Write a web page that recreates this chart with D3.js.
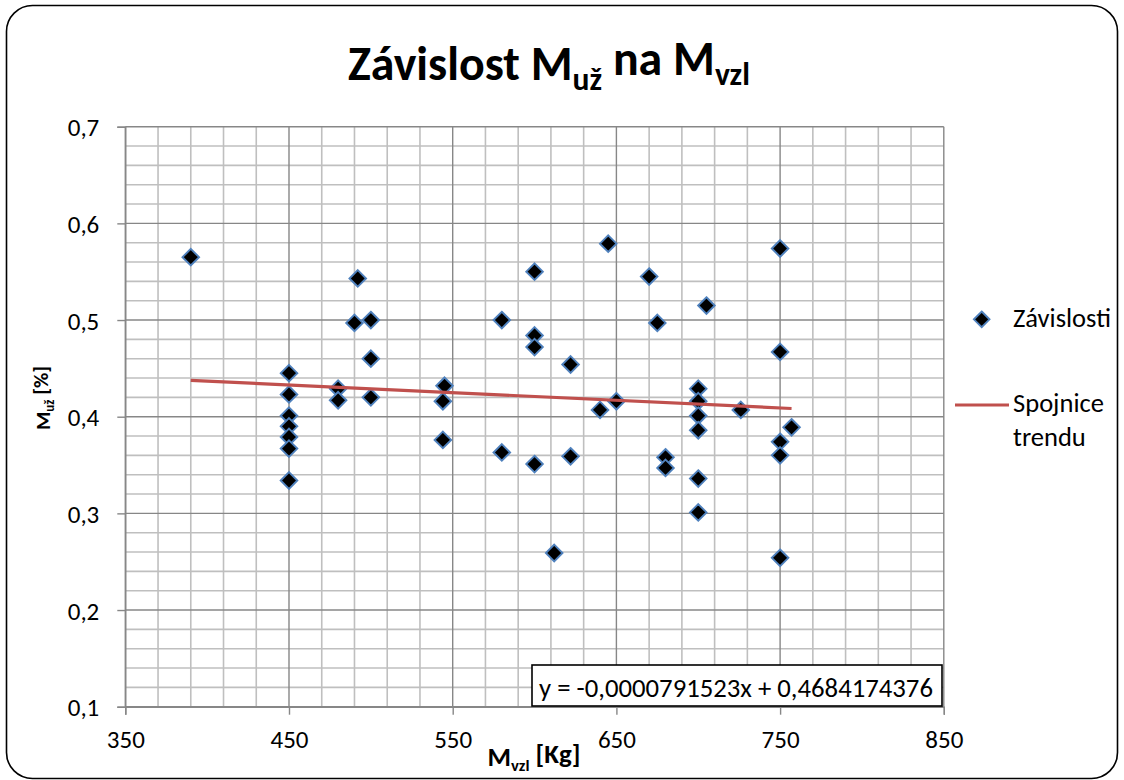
<!DOCTYPE html>
<html>
<head>
<meta charset="utf-8">
<script src="https://cdn.jsdelivr.net/npm/d3@7"></script>
<style>
  html, body { margin: 0; padding: 0; background: #fff; }
  svg { display: block; }
  text { font-family: Carlito, Calibri, Lato, "Open Sans", sans-serif; fill: #000; }
</style>
</head>
<body>
<svg id="chart" width="1124" height="780"></svg>
<script>
// ---- data ----
const massVzl = [390,
  450, 450, 450, 450, 450, 450, 450,
  480, 480, 490, 492, 500, 500, 500,
  545, 544, 544, 580, 580,
  600, 600, 600, 600, 612, 622, 622,
  640, 645, 650, 670, 675, 680, 680,
  700, 700, 700, 700, 700, 700, 705, 726,
  750, 750, 750, 750, 750, 757];
const massUz = [0.565,
  0.445, 0.423, 0.401, 0.390, 0.379, 0.367, 0.334,
  0.429, 0.417, 0.497, 0.543, 0.500, 0.460, 0.420,
  0.432, 0.416, 0.376, 0.500, 0.363,
  0.550, 0.484, 0.472, 0.351, 0.259, 0.454, 0.359,
  0.407, 0.579, 0.416, 0.545, 0.497, 0.358, 0.347,
  0.429, 0.416, 0.401, 0.386, 0.336, 0.301, 0.515, 0.407,
  0.574, 0.467, 0.374, 0.360, 0.254, 0.389];
const xTicks = [350, 450, 550, 650, 750, 850];
const yTicks = [0.1, 0.2, 0.3, 0.4, 0.5, 0.6, 0.7];
const xMinorStep = 20;
const yMinorStep = 0.02;
const trendSlope = -0.0000791523;
const trendIntercept = 0.4684174376;
const equationLabel = "y = -0,0000791523x + 0,4684174376";
const seriesName = "Závislosti";
const trendName = ["Spojnice", "trendu"];

// ---- layout ----
const svg = d3.select("#chart");
const L = 125.3, R = 943.8, T = 126.7, B = 706.7;
const x = d3.scaleLinear().domain([350, 850]).range([L, R]);
const y = d3.scaleLinear().domain([0.1, 0.7]).range([B, T]);
const fmt = v => d3.format(".1f")(v).replace(".", ",");

// outer frame
svg.append("rect")
  .attr("x", 6.5).attr("y", 5.5).attr("width", 1111).attr("height", 773)
  .attr("rx", 26).attr("ry", 26)
  .attr("fill", "#fff").attr("stroke", "#000").attr("stroke-width", 1.6);

// minor gridlines
const xMinor = d3.range(350, 850.1, xMinorStep).filter(v => !xTicks.includes(v));
const yMinor = d3.range(0.1, 0.7001, yMinorStep).map(v => +v.toFixed(2)).filter(v => !yTicks.some(t => Math.abs(t - v) < 1e-9));
const grid = svg.append("g");
grid.selectAll(".xm").data(xMinor).join("line")
  .attr("x1", d => x(d)).attr("x2", d => x(d)).attr("y1", T).attr("y2", B)
  .attr("stroke", "#bfbfbf").attr("stroke-width", 1.6);
grid.selectAll(".ym").data(yMinor).join("line")
  .attr("y1", d => y(d)).attr("y2", d => y(d)).attr("x1", L).attr("x2", R)
  .attr("stroke", "#bfbfbf").attr("stroke-width", 1.6);
// major gridlines
grid.selectAll(".xM").data(xTicks).join("line")
  .attr("x1", d => x(d)).attr("x2", d => x(d)).attr("y1", T).attr("y2", B)
  .attr("stroke", "#878787").attr("stroke-width", 1.4);
grid.selectAll(".yM").data(yTicks).join("line")
  .attr("y1", d => y(d)).attr("y2", d => y(d)).attr("x1", L).attr("x2", R)
  .attr("stroke", "#878787").attr("stroke-width", 1.4);

// axes
const xAxis = svg.append("g").attr("transform", `translate(0,${B})`)
  .call(d3.axisBottom(x).tickValues(xTicks).tickSize(8).tickPadding(16).tickFormat(d => d));
const yAxis = svg.append("g").attr("transform", `translate(${L},0)`)
  .call(d3.axisLeft(y).tickValues(yTicks).tickSize(8).tickPadding(18).tickFormat(fmt));
[xAxis, yAxis].forEach(a => {
  a.select(".domain").attr("stroke", "#878787").attr("stroke-width", 1.4);
  a.selectAll(".tick line").attr("stroke", "#878787").attr("stroke-width", 1.4);
  a.selectAll(".tick text").style("font-family", "Carlito, Calibri, Lato, sans-serif")
    .style("font-size", "25px").attr("fill", "#000");
});
yAxis.selectAll(".tick text").attr("dy", "0.36em");
xAxis.selectAll(".tick text").attr("dy", "0.71em");

// markers
const squareDiamond = {
  draw(ctx, size) {
    const r = Math.sqrt(size / 2);
    ctx.moveTo(0, -r); ctx.lineTo(r, 0); ctx.lineTo(0, r); ctx.lineTo(-r, 0); ctx.closePath();
  }
};
const pts = massVzl.map((v, i) => ({ vx: v, vy: massUz[i] }));
svg.append("g").selectAll("path").data(pts).join("path")
  .attr("transform", d => `translate(${x(d.vx)},${y(d.vy)})`)
  .attr("d", d3.symbol().type(squareDiamond).size(2 * 8.3 * 8.3))
  .attr("fill", "#000").attr("stroke", "#4f81bd").attr("stroke-width", 1.9);

// trend line
const [xmin, xmax] = d3.extent(massVzl);
const trend = [xmin, xmax].map(v => ({ vx: v, vy: trendSlope * v + trendIntercept }));
svg.append("path").datum(trend)
  .attr("d", d3.line().x(d => x(d.vx)).y(d => y(d.vy)))
  .attr("fill", "none").attr("stroke", "#c0504d").attr("stroke-width", 3.2);

// equation box
const eqG = svg.append("g");
eqG.append("rect")
  .attr("x", 532).attr("y", 665).attr("width", 410).attr("height", 41)
  .attr("fill", "#fff").attr("stroke", "#000").attr("stroke-width", 1.6);
const eqText = eqG.append("text").attr("x", 736).attr("y", 697)
  .attr("text-anchor", "middle").style("font-size", "22px").text(equationLabel);
function fit(sel, target, base) {
  const w = sel.node().getComputedTextLength();
  sel.style("font-size", (base * target / w) + "px");
}
fit(eqText, 394, 22);

// title
const title = svg.append("text").attr("x", 549).attr("y", 80).attr("text-anchor", "middle")
  .style("font-size", "36px").style("font-weight", "bold");
title.append("tspan").text("Závislost M");
title.append("tspan").attr("dy", "0.32em").style("font-size", "0.66em").text("už");
title.append("tspan").attr("dy", "-0.32em").text(" na M");
title.append("tspan").attr("dy", "0.32em").style("font-size", "0.66em").text("vzl");
fit(title, 402, 36);

// x axis title
const xt = svg.append("text").attr("x", 534).attr("y", 766).attr("text-anchor", "middle")
  .style("font-size", "21px").style("font-weight", "bold");
xt.append("tspan").text("M");
xt.append("tspan").attr("dy", "0.3em").style("font-size", "0.62em").text("vzl");
xt.append("tspan").attr("dy", "-0.3em").text(" [Kg]");
fit(xt, 93, 21);

// y axis title
const yt = svg.append("text").attr("transform", "translate(50,398) rotate(-90)")
  .attr("text-anchor", "middle").style("font-size", "21px").style("font-weight", "bold");
yt.append("tspan").text("M");
yt.append("tspan").attr("dy", "0.3em").style("font-size", "0.62em").text("už");
yt.append("tspan").attr("dy", "-0.3em").text(" [%]");

// legend
const lg = svg.append("g");
lg.append("path").attr("transform", "translate(981.7,319.3)")
  .attr("d", d3.symbol().type(squareDiamond).size(2 * 7.8 * 7.8))
  .attr("fill", "#000").attr("stroke", "#4f81bd").attr("stroke-width", 1.9);
const l1 = lg.append("text").attr("x", 1013).attr("y", 327).style("font-size", "22px").text(seriesName);
fit(l1, 98, 22);
lg.append("line").attr("x1", 955).attr("x2", 1009).attr("y1", 405).attr("y2", 405)
  .attr("stroke", "#c0504d").attr("stroke-width", 3.2);
lg.append("text").attr("x", 1013).attr("y", 412).style("font-size", l1.style("font-size")).text(trendName[0]);
lg.append("text").attr("x", 1013).attr("y", 446).style("font-size", l1.style("font-size")).text(trendName[1]);
</script>
</body>
</html>
